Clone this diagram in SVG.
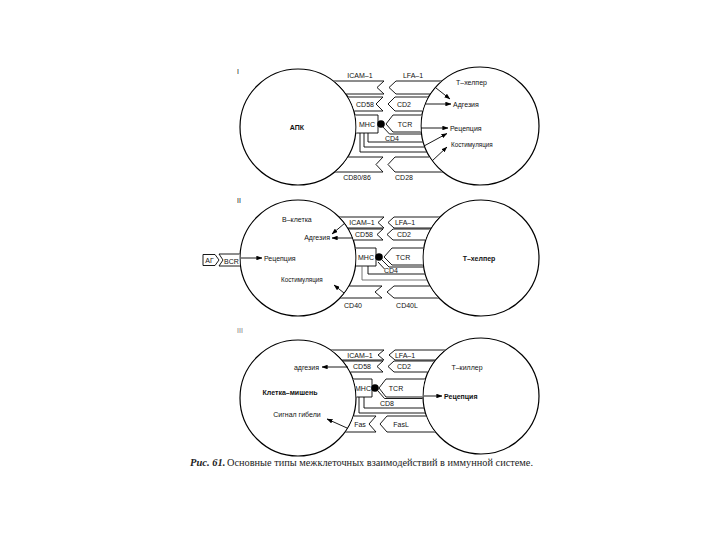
<svg xmlns="http://www.w3.org/2000/svg" width="720" height="540" viewBox="0 0 720 540">
<style>
.cell{fill:#fff;stroke:#000;stroke-width:1.2}
.mol{fill:#fff;stroke:#000;stroke-width:0.9}
.ln{fill:none;stroke:#000;stroke-width:0.9}
.lg{fill:none;stroke:#666;stroke-width:0.9}
.con{fill:none;stroke:#000;stroke-width:0.9;marker-end:url(#ah)}
.t{font-family:"Liberation Sans",Arial,sans-serif;font-size:7px;fill:#111}
.s{font-size:6.3px}
.m{text-anchor:middle}
.e{text-anchor:end}
.b{font-weight:bold}
.cap{font-family:"Liberation Serif","Times New Roman",serif;font-size:10.5px;fill:#222}
</style>
<defs>
<marker id="ah" viewBox="0 0 8 6" refX="7.5" refY="3" markerWidth="6" markerHeight="4.5" markerUnits="userSpaceOnUse" orient="auto"><path d="M0,0 L8,3 L0,6 z" fill="#000"/></marker>
<clipPath id="c1"><path clip-rule="evenodd" d="M0,0H720V540H0Z M356.6,127 A58.6,58.6 0 1,0 239.4,127 A58.6,58.6 0 1,0 356.6,127Z M539.6,126 A59.6,59.6 0 1,0 420.4,126 A59.6,59.6 0 1,0 539.6,126Z"/></clipPath>
<clipPath id="c2"><path clip-rule="evenodd" d="M0,0H720V540H0Z M356.6,258 A58.6,58.6 0 1,0 239.4,258 A58.6,58.6 0 1,0 356.6,258Z M539.6,258 A58.6,58.6 0 1,0 422.4,258 A58.6,58.6 0 1,0 539.6,258Z"/></clipPath>
<clipPath id="c3"><path clip-rule="evenodd" d="M0,0H720V540H0Z M356.6,398 A58.6,58.6 0 1,0 239.4,398 A58.6,58.6 0 1,0 356.6,398Z M539.6,396 A58.6,58.6 0 1,0 422.4,396 A58.6,58.6 0 1,0 539.6,396Z"/></clipPath>
</defs>
<rect width="720" height="540" fill="#fff"/>

<!-- Panel labels -->
<text class="t" x="237" y="74">I</text>
<text class="t" x="237" y="203">II</text>
<text class="t" x="237" y="333" style="fill:#777">III</text>

<!-- ===== Panel I ===== -->
<g id="apc"><circle class="cell" cx="298" cy="127" r="58"/><text class="t m b" x="297" y="130">АПК</text></g>
<g id="thelper1"><circle class="cell" cx="480" cy="126" r="59"/>
<text class="t" x="456" y="85">Т–хелпер</text>
<text class="t" x="453" y="106.5">Адгезия</text>
<text class="t" x="450" y="130.5">Рецепция</text>
<text class="t s" x="451" y="147">Костимуляция</text></g>
<g clip-path="url(#c1)">
<g id="icam1-1"><polygon class="mol" points="280,81 384,81 377,87.5 384,94 280,94"/><text class="t m" x="360" y="78">ICAM–1</text></g>
<g id="lfa1-1"><polygon class="mol" points="396,81 500,81 500,94 396,94 389,87.5"/><text class="t m" x="413" y="78">LFA–1</text></g>
<g id="cd58-1"><polygon class="mol" points="280,97 383,97 376,104 383,111 280,111"/><text class="t m" x="365" y="106.5">CD58</text></g>
<g id="cd2-1"><polygon class="mol" points="395,97 500,97 500,111 395,111 388,104"/><text class="t m" x="404" y="106.5">CD2</text></g>
<g id="mhc-1"><polygon class="mol" points="280,115 378,115 378,133 280,133"/><text class="t m" x="367" y="127">MHC</text><circle cx="381" cy="124" r="3.8" fill="#000"/></g>
<g id="tcr-1"><polygon class="mol" points="393,115 500,115 500,132 393,132 386,124"/><text class="t m" x="405" y="127">TCR</text></g>
<g id="cd4-1"><path class="ln" d="M383,127 L389.5,134 H500 M368,133 V142 H500"/><text class="t m" x="392" y="140.5">CD4</text></g>
<g id="lines-1"><path class="ln" d="M364,133 V147 H500 M360,133 V152 H500"/></g>
<g id="cd80-1"><polygon class="mol" points="280,157 383,157 376,164.5 383,172 280,172"/></g>
<g id="cd28-1"><polygon class="mol" points="395,157 500,157 500,172 395,172 388,164.5"/></g>
</g>
<text class="t m" x="357" y="180">CD80/86</text>
<text class="t m" x="404" y="180">CD28</text>

<!-- ===== Panel II ===== -->
<g id="bcell"><circle class="cell" cx="298" cy="258" r="58"/>
<text class="t" x="282" y="222">В–клетка</text>
<text class="t e" x="330" y="240">Адгезия</text>
<text class="t" x="264" y="261">Рецепция</text>
<text class="t s" x="281" y="282">Костимуляция</text></g>
<g id="thelper2"><circle class="cell" cx="481" cy="258" r="58"/><text class="t m b" x="479" y="260.5">Т–хелпер</text></g>
<g id="ag"><polygon class="mol" points="203,254.5 215,254.5 219,260 215,265.5 203,265.5"/><text class="t m" x="209.5" y="262.5">АГ</text></g>
<g clip-path="url(#c2)">
<g id="bcr"><polygon class="mol" points="219,254 260,254 260,266 219,266 223,260"/><text class="t m" x="231.5" y="263.5">BCR</text></g>
<g id="icam1-2"><polygon class="mol" points="280,217 384,217 378,222.5 384,228 280,228"/><text class="t m" x="362" y="225.3">ICAM–1</text></g>
<g id="lfa1-2"><polygon class="mol" points="394,217 500,217 500,228 394,228 388,222.5"/><text class="t m" x="405" y="225.3">LFA–1</text></g>
<g id="cd58-2"><polygon class="mol" points="280,229 383,229 377,234.5 383,240 280,240"/><text class="t m" x="364" y="237.2">CD58</text></g>
<g id="cd2-2"><polygon class="mol" points="393,229 500,229 500,240 393,240 387,234.5"/><text class="t m" x="404" y="237.2">CD2</text></g>
<g id="mhc-2"><polygon class="mol" points="280,248 376,248 376,266 280,266"/><text class="t m" x="366" y="260">MHC</text><circle cx="379" cy="257" r="3.8" fill="#000"/></g>
<g id="tcr-2"><polygon class="mol" points="392,248 500,248 500,265 392,265 384,257"/><text class="t m" x="403" y="260">TCR</text></g>
<g id="cd4-2"><path class="ln" d="M382,260 L389,267 H500 M378,262 L384.5,269 M368,266 V274 H500"/><text class="t m" x="391" y="273.3">CD4</text></g>
<g id="lines-2"><path class="lg" d="M362,266 V280 H500"/></g>
<g id="cd40"><polygon class="mol" points="280,286 382,286 375,292 382,298 280,298"/></g>
<g id="cd40l"><polygon class="mol" points="394,286 500,286 500,298 394,298 387,292"/></g>
</g>
<text class="t m" x="353" y="308">CD40</text>
<text class="t m" x="407" y="308">CD40L</text>

<!-- ===== Panel III ===== -->
<g id="target"><circle class="cell" cx="298" cy="398" r="58"/>
<text class="t e" x="319" y="370">адгезия</text>
<text class="t m b" x="290" y="395">Клетка–мишень</text>
<text class="t m" x="297" y="417">Сигнал гибели</text></g>
<g id="tkiller"><circle class="cell" cx="481" cy="396" r="58"/>
<text class="t m" x="467" y="370">Т–киллер</text>
<text class="t b" x="444" y="399">Рецепция</text></g>
<g clip-path="url(#c3)">
<g id="icam1-3"><polygon class="mol" points="280,350 384,350 378,355 384,360 280,360"/><text class="t m" x="360" y="357.6">ICAM–1</text></g>
<g id="lfa1-3"><polygon class="mol" points="395,350 500,350 500,360 395,360 389,355"/><text class="t m" x="405" y="357.6">LFA–1</text></g>
<g id="cd58-3"><polygon class="mol" points="280,361 383,361 377,366.5 383,372 280,372"/><text class="t m" x="362" y="369.2">CD58</text></g>
<g id="cd2-3"><polygon class="mol" points="394,361 500,361 500,372 394,372 388,366.5"/><text class="t m" x="404" y="369.2">CD2</text></g>
<g id="mhc-3"><polygon class="mol" points="280,379 372,379 372,397 280,397"/><text class="t m" x="363" y="391">MHC</text><circle cx="375" cy="388" r="3.8" fill="#000"/></g>
<g id="tcr-3"><polygon class="mol" points="386,379 500,379 500,397 386,397 379,388"/><text class="t m" x="396" y="391">TCR</text></g>
<g id="cd8"><path class="ln" d="M378,391 L384.5,398.5 H500 M364,397 V408 H500"/><text class="t m" x="387" y="405.5">CD8</text></g>
<g id="lines-3"><path class="ln" d="M359,397 V413 H500"/></g>
<g id="fas"><polygon class="mol" points="280,416 376,416 369,424 376,432 280,432"/><text class="t m" x="360" y="427">Fas</text></g>
<g id="fasl"><polygon class="mol" points="387,416 500,416 500,432 387,432 380,424"/><text class="t m" x="401" y="427">FasL</text></g>
</g>

<!-- ===== Connectors ===== -->
<g id="connectors">
<path class="con" d="M436,88 L450,99"/>
<path class="con" d="M425,104 L451,104"/>
<path class="con" d="M421,128 L448,128"/>
<path class="con" d="M424,146 L447,133.5"/>
<path class="con" d="M432,161 L447,147"/>
<path class="con" d="M345,223 L332,234"/>
<path class="con" d="M352,238 L332,238"/>
<path class="con" d="M241,258 L262,258"/>
<path class="con" d="M344,293 L334,285"/>
<path class="con" d="M348,367 L322,367"/>
<path class="con" d="M347,428 L327,419"/>
<path class="con" d="M424,396 L442,396"/>
</g>

<!-- Caption -->
<text class="cap" x="190" y="466"><tspan font-weight="bold" font-style="italic">Рис. 61.</tspan></text>
<text class="cap" x="227" y="466" textLength="306" lengthAdjust="spacingAndGlyphs">Основные типы межклеточных взаимодействий в иммунной системе.</text>
</svg>
